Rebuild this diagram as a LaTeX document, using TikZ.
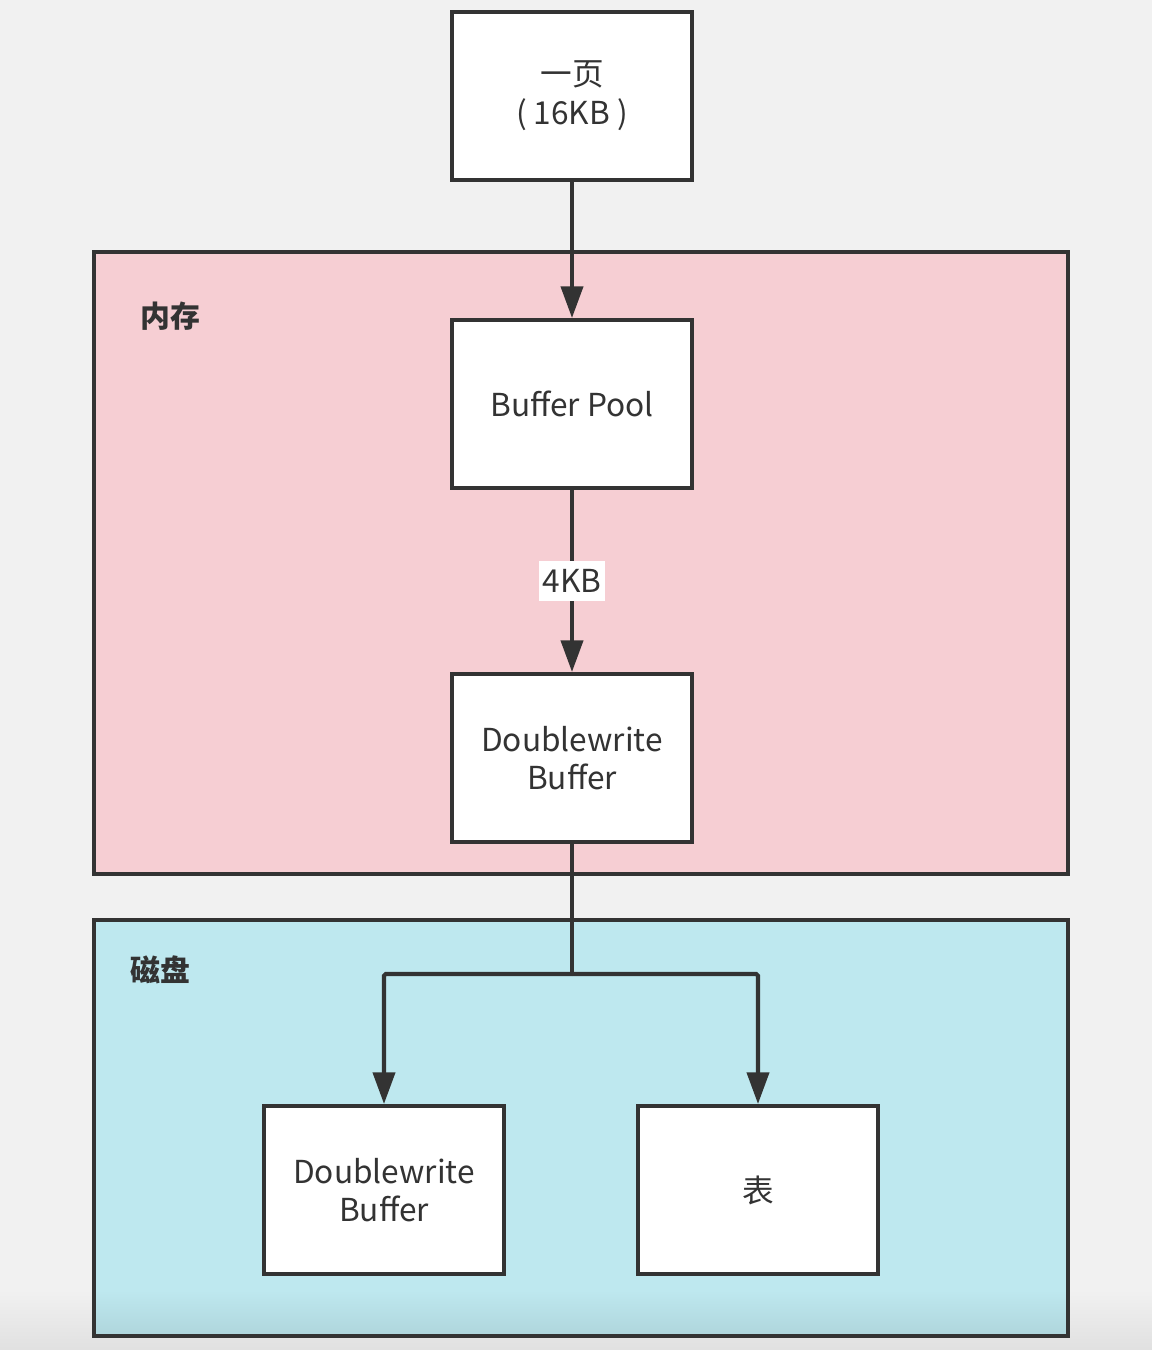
\documentclass[tikz,border=0pt]{standalone}
\usepackage{fontspec}
\setmainfont{Noto Sans CJK SC}
\usetikzlibrary{arrows.meta}
\definecolor{bg}{HTML}{F1F1F1}
\definecolor{ink}{HTML}{333333}
\definecolor{mem}{HTML}{F6CED3}
\definecolor{disk}{HTML}{BEE8EF}

\begin{document}
\begin{tikzpicture}[x=0.02cm, y=-0.02cm,
    box/.style={draw=ink, fill=white, line width=2.3pt, minimum width=4.8cm,
      minimum height=3.36cm, align=center, text=ink,
      font=\fontsize{18}{22}\selectfont},
    region/.style={draw=ink, line width=2.3pt, minimum width=19.48cm},
    link/.style={draw=ink, line width=2.3pt, -{Triangle[length=18pt, width=12.5pt]}},
    tag/.style={text=ink, font=\fontsize{17}{22}\selectfont\bfseries}]
      % background
      \fill[bg] (0, 0) rectangle (1152, 1350);
      \shade[top color=bg, bottom color=black!12] (0, 1290) rectangle (1152, 1350);
      % regions
      \node[region, fill=mem, minimum height=12.44cm] (memory) at (581, 563) {};
      \fill[disk] (94, 920) rectangle (1068, 1336);
      \shade[top color=disk, bottom color=disk!92!black] (94, 1290) rectangle (1068, 1336);
      \node[region, minimum height=8.32cm] (storage) at (581, 1128) {};
      \node[tag] (memtag) at (170, 316) {内存};
      \node[tag] (disktag) at (160, 970) {磁盘};
      % boxes
      \node[box] (page) at (572, 96) {\raisebox{-4pt}{一页}\\[0pt]\raisebox{-4pt}{( 16KB )}};
      \node[box] (pool) at (572, 404) {Buffer Pool};
      \node[box] (dwbmem) at (572, 758) {Doublewrite\\Buffer};
      \node[box] (dwbdisk) at (384, 1190) {Doublewrite\\Buffer};
      \node[box] (table) at (758, 1190) {表};
      % links
      \draw[link] (page) -- (pool);
      \draw[link] (pool) -- node[fill=white, text=ink, inner xsep=2pt, inner ysep=5pt,
        font=\fontsize{18}{22}\selectfont] (size) {4KB} (dwbmem);
      \coordinate (split) at (572, 974);
      \draw[ink, line width=2.3pt] (dwbmem) -- (split);
      \foreach \t in {dwbdisk, table}{
        \draw[link, rounded corners=1pt] (split) -| (\t.north);
      }
\end{tikzpicture}
\end{document}
